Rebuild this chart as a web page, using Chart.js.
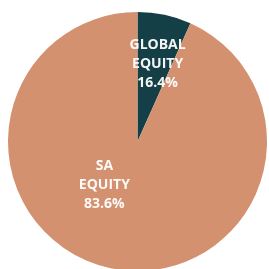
<!DOCTYPE html>
<html>
<head>
<meta charset="utf-8">
<script src="https://cdn.jsdelivr.net/npm/chart.js@4"></script>
<style>
  html, body { margin: 0; padding: 0; background: #fff; width: 269px; height: 269px; overflow: hidden; }
  #wrap { position: absolute; left: 8px; top: 12px; width: 259px; height: 259px; }
</style>
</head>
<body>
<div id="wrap"><canvas id="allocation-pie"></canvas></div>
<script>
const categories = ['GLOBAL EQUITY', 'SA EQUITY'];
const labelLines = [['GLOBAL', 'EQUITY'], ['SA', 'EQUITY']];
const percentLabels = ['16.4%', '83.6%'];
// slice sizes as they are drawn in the picture
const sliceShares = [6.7, 93.3];
const sliceColors = ['#143f47', '#d3916f'];

// where each label block sits: angle from 12 o'clock (deg), fraction of radius
const labelSpots = [
  { angle: 14.5, frac: 0.62 },
  { angle: 217, frac: 0.425 }
];

const sliceLabels = {
  id: 'sliceLabels',
  afterDatasetsDraw(chart) {
    const ctx = chart.ctx;
    const arcs = chart.getDatasetMeta(0).data;
    ctx.save();
    ctx.fillStyle = 'rgba(255,255,255,0.95)';
    ctx.font = 'bold 14px "Open Sans"';
    ctx.textAlign = 'center';
    ctx.textBaseline = 'middle';
    arcs.forEach((arc, i) => {
      const spot = labelSpots[i];
      const a = spot.angle * Math.PI / 180;
      const cx = arc.x + arc.outerRadius * spot.frac * Math.sin(a);
      const cy = arc.y - arc.outerRadius * spot.frac * Math.cos(a);
      const lines = labelLines[i].concat([percentLabels[i]]);
      const lh = 19;
      lines.forEach((t, j) => {
        ctx.fillText(t, cx, cy + (j - (lines.length - 1) / 2) * lh);
      });
    });
    ctx.restore();
  }
};

new Chart(document.getElementById('allocation-pie'), {
  type: 'pie',
  data: {
    labels: categories,
    datasets: [{
      data: sliceShares,
      backgroundColor: sliceColors,
      borderWidth: 0,
      hoverOffset: 0
    }]
  },
  options: {
    responsive: true,
    maintainAspectRatio: false,
    animation: false,
    layout: { padding: 0 },
    plugins: {
      legend: { display: false },
      tooltip: { enabled: false }
    }
  },
  plugins: [sliceLabels]
});
</script>
</body>
</html>
